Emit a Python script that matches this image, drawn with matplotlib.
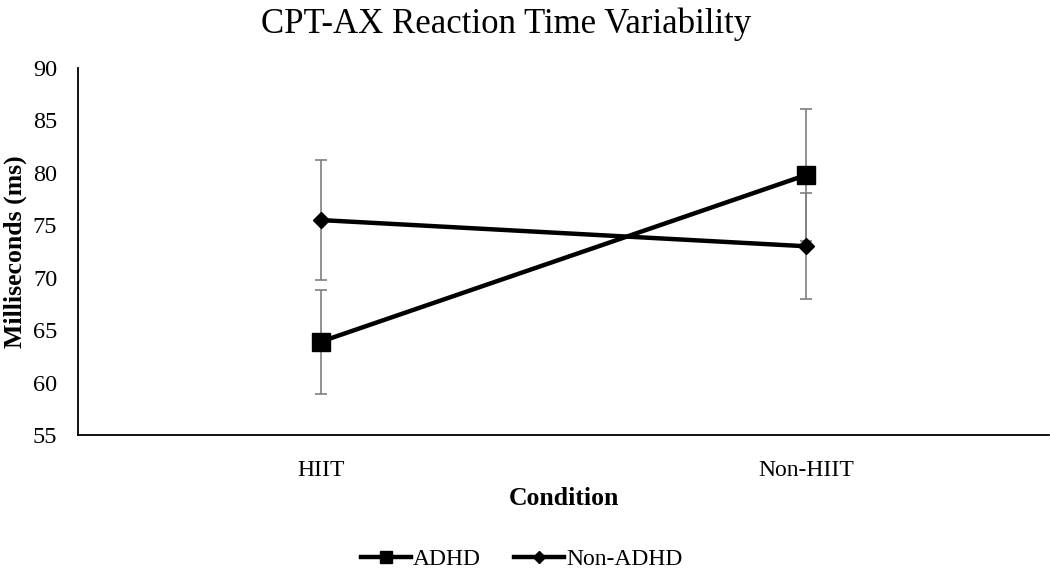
import matplotlib
matplotlib.use("Agg")
import matplotlib.pyplot as plt
import numpy as np

# ------------------ DATA ------------------
CONDITIONS = ["HIIT", "Non-HIIT"]
ADHD_MEAN = [63.9, 79.8]
ADHD_ERR = [4.95, 6.3]
NON_ADHD_MEAN = [75.5, 73.0]
NON_ADHD_ERR = [5.7, 5.05]
Y_TICKS = [55, 60, 65, 70, 75, 80, 85, 90]

# ------------------ STYLE ------------------
plt.rcParams.update({
    "font.family": "serif",
    "font.serif": ["Liberation Serif", "DejaVu Serif"],
    "font.size": 17,
})

fig = plt.figure(figsize=(10.5, 5.73), dpi=100)
ax = fig.add_axes([0.0743, 0.2408, 0.9247, 0.6405])

x = np.arange(len(CONDITIONS)) + 0.5

err_kw = dict(fmt="none", ecolor="#7f7f7f", elinewidth=1.2, capsize=4, capthick=1.2, zorder=2)
ax.errorbar(x, ADHD_MEAN, yerr=ADHD_ERR, **err_kw)
ax.errorbar(x, NON_ADHD_MEAN, yerr=NON_ADHD_ERR, **err_kw)

ax.plot(x, ADHD_MEAN, color="black", linewidth=3.2, marker="s", markersize=13,
        label="ADHD", zorder=3)
ax.plot(x, NON_ADHD_MEAN, color="black", linewidth=3.2, marker="D", markersize=8.5,
        label="Non-ADHD", zorder=3)

ax.set_xlim(0, 2)
ax.set_ylim(55, 90)
ax.set_yticks(Y_TICKS)
ax.set_xticks(x)
ax.set_xticklabels(CONDITIONS)
ax.tick_params(length=0)
ax.tick_params(axis="y", pad=15, labelsize=17.5)
ax.tick_params(axis="x", pad=18, labelsize=17)

for side in ["top", "right"]:
    ax.spines[side].set_visible(False)
for side in ["left", "bottom"]:
    ax.spines[side].set_linewidth(1.3)

ax.set_ylabel("Milliseconds (ms)", fontweight="bold", fontsize=18.5, labelpad=4)
ax.set_xlabel("Condition", fontweight="bold", fontsize=18.5, labelpad=4)
fig.suptitle("CPT-AX Reaction Time Variability", fontsize=25, x=0.482, y=0.987, va="top")

fig.legend(loc="center", bbox_to_anchor=(0.497, 0.024), ncol=2, frameon=False,
           fontsize=17, handlelength=2.1, handletextpad=0.1, columnspacing=1.4,
           markerscale=0.7)

fig.savefig("out.png", dpi=100)
